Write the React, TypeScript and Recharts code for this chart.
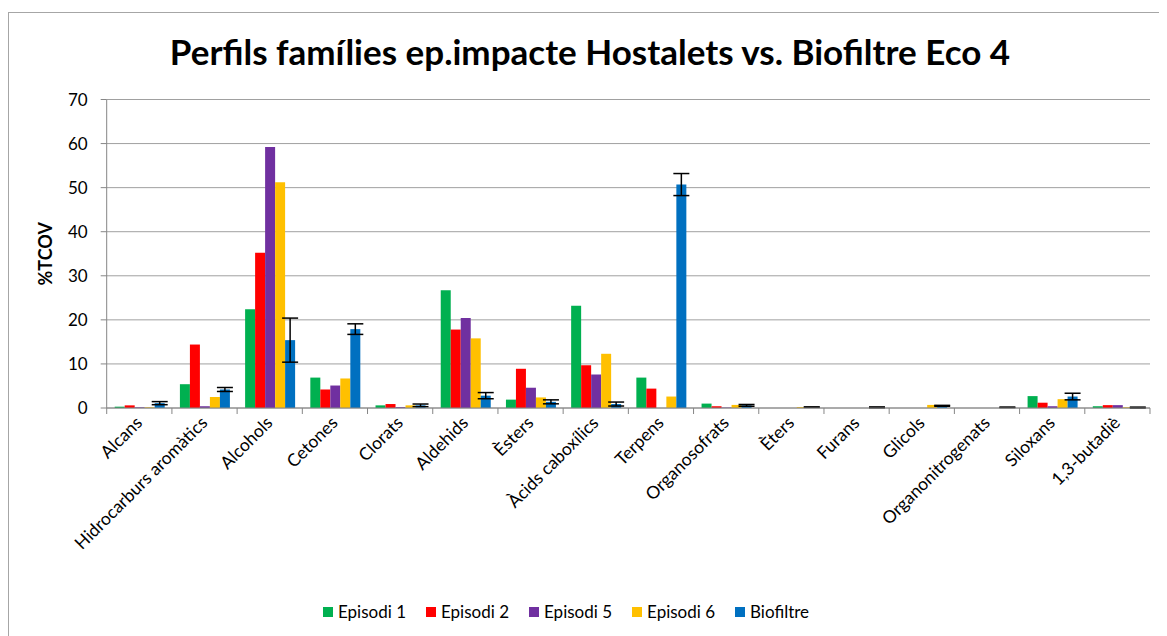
import React from 'react';
import { BarChart, Bar, XAxis, YAxis, CartesianGrid, Legend, ErrorBar } from 'recharts';

const categories = [
  'Alcans', 'Hidrocarburs aromàtics', 'Alcohols', 'Cetones', 'Clorats', 'Aldehids', 'Èsters',
  'Àcids caboxílics', 'Terpens', 'Organosofrats', 'Èters', 'Furans', 'Glicols',
  'Organonitrogenats', 'Siloxans', '1,3-butadiè',
];
const episodi1 = [0.3, 5.4, 22.4, 6.9, 0.6, 26.7, 1.9, 23.2, 6.9, 1.0, 0, 0, 0, 0, 2.7, 0.4];
const episodi2 = [0.6, 14.4, 35.2, 4.2, 0.9, 17.8, 8.9, 9.7, 4.4, 0.4, 0, 0, 0, 0, 1.2, 0.65];
const episodi5 = [0.15, 0.4, 59.2, 5.1, 0.2, 20.4, 4.6, 7.6, 0, 0.1, 0, 0, 0, 0, 0.4, 0.65];
const episodi6 = [0.15, 2.5, 51.2, 6.7, 0.6, 15.8, 2.4, 12.3, 2.6, 0.7, 0.2, 0, 0.7, 0, 2.0, 0.15];
const biofiltre = [1.1, 4.2, 15.4, 17.9, 0.6, 2.8, 1.4, 0.9, 50.7, 0.6, 0.2, 0.15, 0.5, 0.15, 2.6, 0.1];
const biofiltreErr = [0.35, 0.45, 5.0, 1.2, 0.3, 0.7, 0.45, 0.45, 2.5, 0.2, 0.05, 0.1, 0.1, 0.05, 0.75, 0.1];
const yTicks = [0, 10, 20, 30, 40, 50, 60, 70];

const series = [
  { key: 'ep1', name: 'Episodi 1', color: '#00b050' },
  { key: 'ep2', name: 'Episodi 2', color: '#ff0000' },
  { key: 'ep5', name: 'Episodi 5', color: '#7030a0' },
  { key: 'ep6', name: 'Episodi 6', color: '#ffc000' },
  { key: 'bio', name: 'Biofiltre', color: '#0070c0' },
];

const data = categories.map((cat, i) => ({
  cat,
  ep1: episodi1[i],
  ep2: episodi2[i],
  ep5: episodi5[i],
  ep6: episodi6[i],
  bio: biofiltre[i],
  bioErr: biofiltreErr[i],
}));

const FONT = 'Lato, "Open Sans", sans-serif';
const HALF_BAND = 65.2 / 2;

const CategoryTick = (props: any) => {
  const { x, y, payload, index } = props;
  const tx = x + 4;
  const ty = y + 16;
  return (
    <g>
      <line x1={x - HALF_BAND} y1={y} x2={x - HALF_BAND} y2={y + 6} stroke="#868686" />
      {index === categories.length - 1 && (
        <line x1={x + HALF_BAND} y1={y} x2={x + HALF_BAND} y2={y + 6} stroke="#868686" />
      )}
      <text
        x={tx}
        y={ty}
        transform={`rotate(-45 ${tx} ${ty})`}
        textAnchor="end"
        fontSize={17.5}
        fontFamily={FONT}
        fill="#000"
      >
        {payload.value}
      </text>
    </g>
  );
};

const LegendContent = () => (
  <div style={{ display: 'flex', fontFamily: FONT, fontSize: 17, color: '#000' }}>
    {series.map((s) => (
      <div key={s.key} style={{ display: 'flex', alignItems: 'center', marginRight: 20 }}>
        <span style={{ width: 10, height: 10, background: s.color, marginRight: 5 }} />
        <span>{s.name}</span>
      </div>
    ))}
  </div>
);

export default function App() {
  return (
    <div style={{ paddingTop: 4 }}>
      <div
        style={{
          position: 'relative',
          width: 1158,
          height: 623,
          borderTop: '1px solid #a6a6a6',
          borderLeft: '1px solid #a6a6a6',
          background: '#fff',
        }}
      >
        <div
          style={{
            position: 'absolute',
            top: 17,
            left: 0,
            width: 1162,
            textAlign: 'center',
            fontFamily: FONT,
            fontWeight: 700,
            fontSize: 35,
            color: '#000',
          }}
        >
          Perfils famílies ep.impacte Hostalets vs. Biofiltre Eco 4
        </div>
        <BarChart
          width={1158}
          height={623}
          data={data}
          margin={{ top: 86.5, right: 17, bottom: 0, left: 0 }}
          barSize={10}
          barGap={0}
        >
          <CartesianGrid vertical={false} stroke="#a0a0a0" />
          <XAxis
            dataKey="cat"
            interval={0}
            height={228}
            tickLine={false}
            tickSize={0}
            tickMargin={0}
            axisLine={{ stroke: '#868686' }}
            tick={<CategoryTick />}
          />
          <YAxis
            width={97.7}
            domain={[0, 70]}
            ticks={yTicks}
            interval={0}
            tickSize={6}
            tickMargin={13}
            tickLine={{ stroke: '#868686' }}
            axisLine={{ stroke: '#868686' }}
            tick={{ fontSize: 17, fontFamily: FONT, fill: '#000' }}
            label={{
              value: '%TCOV',
              angle: -90,
              position: 'insideLeft',
              offset: 37,
              style: { fontSize: 18, fontWeight: 700, fontFamily: FONT, fill: '#000', textAnchor: 'middle' },
            }}
          />
          {series.map((s) => (
            <Bar key={s.key} dataKey={s.key} name={s.name} fill={s.color} isAnimationActive={false}>
              {s.key === 'bio' && (
                <ErrorBar dataKey="bioErr" width={8} strokeWidth={1.5} stroke="#000" isAnimationActive={false} />
              )}
            </Bar>
          ))}
          <Legend
            layout="vertical"
            align="center"
            verticalAlign="middle"
            content={<LegendContent />}
            wrapperStyle={{ top: 588, left: 314, width: 'auto' }}
          />
        </BarChart>
      </div>
    </div>
  );
}
